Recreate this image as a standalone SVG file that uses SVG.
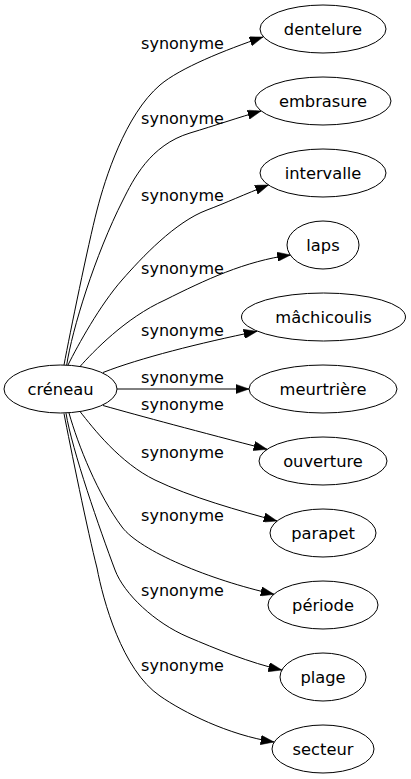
<svg xmlns="http://www.w3.org/2000/svg" width="411" height="779" viewBox="0 0 411 779">
<defs>
<style>
.node ellipse{fill:none;stroke:#000;stroke-width:1}
.node text{font-family:"DejaVu Sans","Liberation Sans",sans-serif;font-size:16.3px;fill:#000;text-anchor:middle}
.edges path{fill:none;stroke:#000;stroke-width:1;marker-end:url(#arr)}
.edges text{font-family:"DejaVu Sans","Liberation Sans",sans-serif;font-size:16px;fill:#000;text-anchor:middle}
</style>
<marker id="arr" markerWidth="13.3" markerHeight="9.4" refX="13.3" refY="4.7" orient="auto" markerUnits="userSpaceOnUse">
<path d="M0,0 L13.3,4.7 L0,9.4 z" fill="#000" stroke="#000" stroke-width="0.5"/>
</marker>
</defs>
<rect x="0" y="0" width="411" height="779" fill="#fff"/>
<g class="edges" id="edges">
<path d="M64,365 C70,333 88,245 97,210 C105,179 125,115 160,85 C180,68 225,50 263,37"/>
<text x="182.5" y="48.5">synonyme</text>
<path d="M66.7,365 C72,330 95,255 123,200 C133,180 150,145 190,133 C215,125.5 240,117 261,111"/>
<text x="182.5" y="123.6">synonyme</text>
<path d="M68,365 C78,345 100,305 122,280 C141.8,257.5 175,222 207,210 C225,203.3 245,194 268.5,185"/>
<text x="182.5" y="200.5">synonyme</text>
<path d="M80,366.5 C93,352 125,318 165,300 C205,280 245,261 290.5,255"/>
<text x="182.5" y="273.5">synonyme</text>
<path d="M103,372.5 C140,358 200,343 257,331.3"/>
<text x="182.5" y="336">synonyme</text>
<path d="M117,389 L249,389"/>
<text x="182.5" y="383">synonyme</text>
<path d="M103,405.5 C140,416 200,432 267,449.3"/>
<text x="182.5" y="409.6">synonyme</text>
<path d="M80,411.5 C93,428 120,463 155,480 C190,497 240,511 277,521"/>
<text x="182.5" y="458">synonyme</text>
<path d="M69,413 C78,445 98,495 122,527 C140,551 210,580 274,594.3"/>
<text x="182.5" y="521">synonyme</text>
<path d="M66,413.2 C72,450 100,530 115,570 C124,594 155,623 188,637 C215,648.5 250,663 281.8,670"/>
<text x="182.5" y="595.6">synonyme</text>
<path d="M64,413.5 C70,445 88,533 97,568 C103,600 122,670 160,696 C183,712 228,735 274,742"/>
<text x="182.5" y="671.3">synonyme</text>
</g>
<g class="node" id="node-creneau"><ellipse cx="60.5" cy="389" rx="56.5" ry="24"/><text x="60.5" y="394.5">créneau</text></g>
<g class="node" id="node-dentelure"><ellipse cx="323" cy="29" rx="63" ry="24"/><text x="323" y="34.5">dentelure</text></g>
<g class="node" id="node-embrasure"><ellipse cx="323" cy="101" rx="68" ry="24"/><text x="323" y="106.5">embrasure</text></g>
<g class="node" id="node-intervalle"><ellipse cx="323" cy="173" rx="63" ry="24"/><text x="323" y="178.5">intervalle</text></g>
<g class="node" id="node-laps"><ellipse cx="323" cy="245" rx="36" ry="24"/><text x="323" y="250.5">laps</text></g>
<g class="node" id="node-machicoulis"><ellipse cx="323.5" cy="317" rx="82" ry="24"/><text x="323.5" y="322.5">mâchicoulis</text></g>
<g class="node" id="node-meurtriere"><ellipse cx="323" cy="389" rx="74" ry="24"/><text x="323" y="394.5">meurtrière</text></g>
<g class="node" id="node-ouverture"><ellipse cx="323" cy="461" rx="64" ry="24"/><text x="323" y="466.5">ouverture</text></g>
<g class="node" id="node-parapet"><ellipse cx="323" cy="533" rx="53" ry="24"/><text x="323" y="538.5">parapet</text></g>
<g class="node" id="node-periode"><ellipse cx="323" cy="605" rx="55" ry="24"/><text x="323" y="610.5">période</text></g>
<g class="node" id="node-plage"><ellipse cx="323" cy="677" rx="43" ry="24"/><text x="323" y="682.5">plage</text></g>
<g class="node" id="node-secteur"><ellipse cx="323" cy="749" rx="51" ry="24"/><text x="323" y="754.5">secteur</text></g>
</svg>
